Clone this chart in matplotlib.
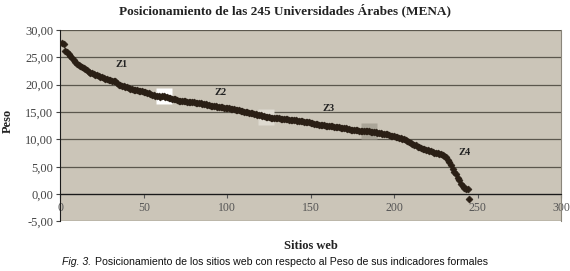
import numpy as np
import matplotlib
matplotlib.use('Agg')
from matplotlib import pyplot as plt
from matplotlib.ticker import FuncFormatter

# Peso por sitio web (ordenado)
peso = [27.6, 27.5, 26.2, 26.0, 25.6, 25.2, 24.9, 24.5, 24.1, 23.8,
        23.6, 23.4, 23.2, 23.0, 22.8, 22.6, 22.4, 22.2, 22.1, 22.0,
        21.8, 21.7, 21.6, 21.5, 21.4, 21.3, 21.1, 21.0, 20.9, 20.8,
        20.7, 20.6, 20.6, 20.3, 20.0, 19.9, 19.8, 19.7, 19.6, 19.5,
        19.4, 19.3, 19.2, 19.1, 19.1, 19.0, 18.9, 18.8, 18.8, 18.7,
        18.6, 18.5, 18.4, 18.3, 18.2, 18.1, 18.0, 18.0, 17.9, 17.8,
        17.9, 17.9, 17.8, 17.7, 17.6, 17.5, 17.4, 17.3, 17.3, 17.2,
        17.1, 17.1, 17.0, 17.0, 17.0, 16.9, 16.9, 16.8, 16.8, 16.8,
        16.7, 16.7, 16.6, 16.6, 16.5, 16.4, 16.4, 16.3, 16.3, 16.2,
        16.2, 16.1, 16.1, 16.0, 16.0, 15.9, 15.9, 15.8, 15.8, 15.7,
        15.7, 15.6, 15.5, 15.5, 15.4, 15.4, 15.3, 15.2, 15.2, 15.1,
        15.1, 15.0, 14.9, 14.9, 14.8, 14.7, 14.6, 14.5, 14.5, 14.4,
        14.3, 14.2, 14.1, 14.1, 14.1, 14.0, 14.0, 14.0, 13.9, 13.9,
        13.9, 13.8, 13.8, 13.8, 13.7, 13.7, 13.6, 13.6, 13.5, 13.5,
        13.5, 13.4, 13.4, 13.3, 13.3, 13.2, 13.2, 13.1, 13.1, 13.0,
        13.0, 12.9, 12.9, 12.8, 12.7, 12.7, 12.6, 12.6, 12.5, 12.5,
        12.4, 12.4, 12.4, 12.3, 12.3, 12.2, 12.2, 12.1, 12.1, 12.0,
        12.0, 11.9, 11.9, 11.8, 11.8, 11.8, 11.7, 11.7, 11.6, 11.6,
        11.6, 11.6, 11.5, 11.5, 11.5, 11.4, 11.4, 11.3, 11.3, 11.2,
        11.2, 11.1, 11.0, 11.0, 10.9, 10.9, 10.8, 10.7, 10.7, 10.6,
        10.5, 10.4, 10.3, 10.2, 10.1, 10.0, 9.9, 9.7, 9.6, 9.4,
        9.2, 9.0, 8.9, 8.7, 8.6, 8.4, 8.3, 8.2, 8.1, 8.0,
        7.9, 7.8, 7.7, 7.6, 7.5, 7.5, 7.4, 7.4, 7.2, 7.0,
        6.7, 6.3, 5.8, 5.3, 4.6, 4.0, 3.7, 3.0, 2.5, 1.8,
        1.4, 1.2, 1.0, 0.9, -0.9]
sitios = np.arange(1, len(peso) + 1)

# limites de zona resaltados (posicion del sitio) y su color
limites = [62, 123, 185]
limites_col = ['#ffffff', '#dedad0', '#aaa598']

zonas = ['Z1', 'Z2', 'Z3', 'Z4']
zonas_x = [37, 96, 160.5, 242.5]
zonas_y = [23.7, 18.5, 15.7, 7.6]

yticks = [-5, 0, 5, 10, 15, 20, 25, 30]
xticks = [0, 50, 100, 150, 200, 250, 300]

serif = 'Liberation Serif'
fig = plt.figure(figsize=(5.70, 2.71), dpi=100)
ax = fig.add_axes([0.1058, 0.1827, 0.8785, 0.7066])
ax.set_facecolor('#cbc5b8')

for v in yticks:
    ax.axhline(v, color='#5b574d' if v != 0 else '#1a1a1a', lw=0.9, zorder=1)

for p, c in zip(limites, limites_col):
    ax.plot(p, peso[p - 1], 's', ms=11.5, color=c, mec='none', zorder=2)

ax.plot(sitios, peso, 'D', ms=3.5, color='#2a1f15', mec='#2a1f15', mew=0.5, zorder=3)

for z, zx, zy in zip(zonas, zonas_x, zonas_y):
    ax.text(zx, zy, z, fontsize=7.5, fontweight='bold', family=serif,
            color='#222222', ha='center', va='center', zorder=4)

ax.set_xlim(0, 300)
ax.set_ylim(-5, 30)
ax.set_yticks(yticks)
ax.set_xticks(xticks)
ax.yaxis.set_major_formatter(FuncFormatter(lambda v, p: ('%.2f' % v).replace('.', ',')))
ax.spines['bottom'].set_position(('data', 0))
ax.spines['bottom'].set_color('#1a1a1a')
ax.spines['left'].set_color('#1a1a1a')
ax.spines['top'].set_visible(False)
ax.spines['right'].set_color('#8a857a')
ax.tick_params(axis='y', length=3, width=0.8, labelsize=9, colors='#444444', pad=2)
ax.tick_params(axis='x', length=3, width=0.8, labelsize=8.5, colors='#555555', pad=3)
for lab in ax.get_xticklabels() + ax.get_yticklabels():
    lab.set_family(serif)

fig.text(0.5, 0.962, 'Posicionamiento de las 245 Universidades Árabes (MENA)',
         ha='center', va='center', fontsize=9.5, fontweight='bold', family=serif, color='#222222')
fig.text(0.014, 0.552, 'Peso', rotation=90, ha='center', va='center',
         fontsize=9, fontweight='bold', family=serif, color='#222222')
fig.text(0.545, 0.092, 'Sitios web', ha='center', va='center',
         fontsize=9, fontweight='bold', family=serif, color='#222222')

# pie de figura: "Fig. 3." en cursiva seguido del texto normal
t1 = fig.text(0.109, 0.033, 'Fig. 3.', ha='left', va='center', fontsize=7.6,
              style='italic', family='Liberation Sans', color='#111111')
fig.canvas.draw()
bb = t1.get_window_extent(fig.canvas.get_renderer()).transformed(fig.transFigure.inverted())
fig.text(bb.x1 + 0.006, 0.033,
         'Posicionamiento de los sitios web con respecto al Peso de sus indicadores formales',
         ha='left', va='center', fontsize=7.6, family='Liberation Sans', color='#111111')

fig.savefig('out.png', dpi=100)
